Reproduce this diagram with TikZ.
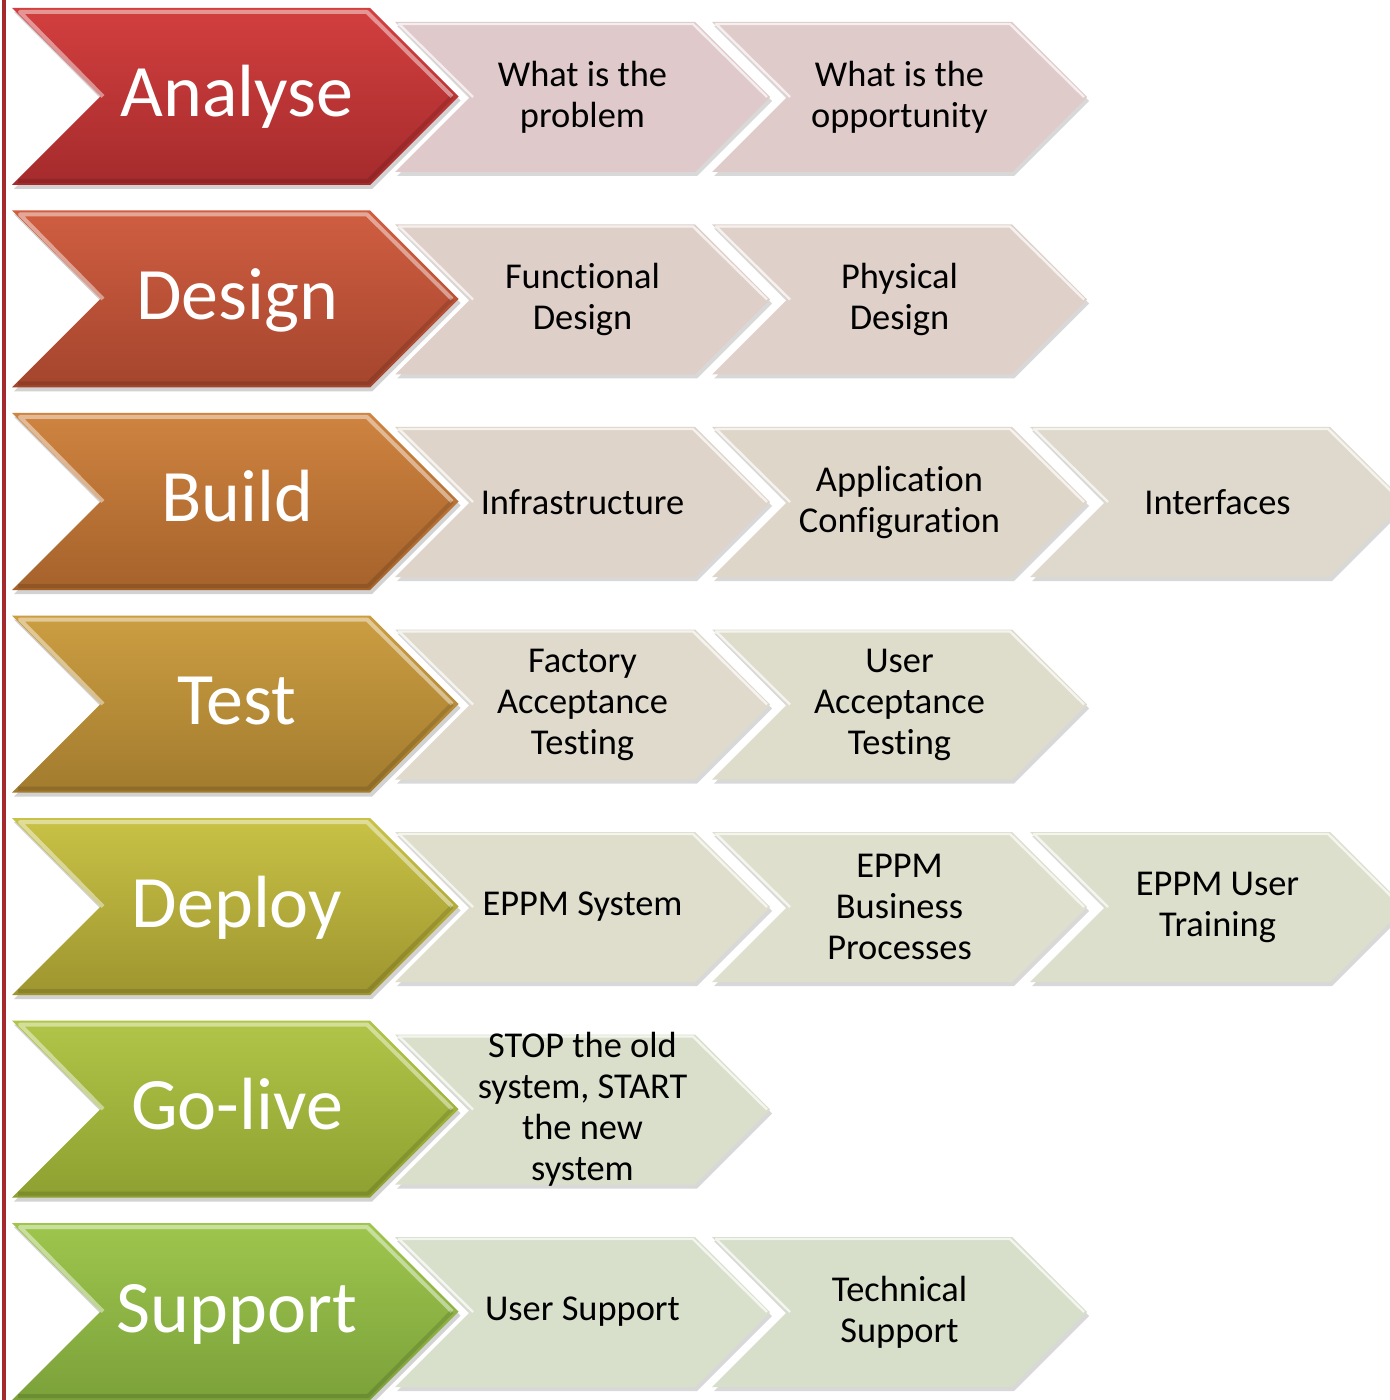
\documentclass[tikz,border=0pt]{standalone}
\usepackage{fontspec}
\setmainfont{Carlito}[Ligatures=NoCommon]
\usetikzlibrary{shadows}

\definecolor{barred}{HTML}{A52A2E}

% chevron outline: left, top, body width, half height
\newcommand{\chevron}[4]{(#1,#2) -- ++(#3,0) -- ++(#4,#4) -- ++(-#4,#4) -- ++(-#3,0) -- ++(#4,-#4) -- cycle}

% one light task chevron with its text: left, top, fill, name, text
\newcommand{\task}[5]{%
  \definecolor{tk}{HTML}{#3}
  \fill[task] \chevron{#1}{#2}{300}{75};
  \draw[task edge] (#1+78,#2+75) -- (#1+4,#2+2) -- (#1+298,#2+2) -- (#1+372,#2+75);
  \node[task text] (#4) at (#1+187.5,#2+75) {#5};}

\begin{document}
\begin{tikzpicture}[x=0.5pt,y=-0.5pt,
    phase/.style={drop shadow={shadow xshift=1pt,shadow yshift=-2pt,opacity=.35}},
    bevel/.style={white,opacity=.45,line width=2pt,line join=round},
    dark edge/.style={black,opacity=.12,line width=2pt,line join=round},
    phase text/.style={white,anchor=base,font=\fontsize{37}{44}\selectfont},
    task/.style={fill=tk,drop shadow={shadow xshift=1pt,shadow yshift=-2pt,opacity=.3}},
    task edge/.style={white,opacity=.7,line width=1.2pt,line join=round},
    task text/.style={align=center,font=\fontsize{18.2}{20.5}\selectfont}]

\fill[white] (0,0) rectangle (1389,1400);
\useasboundingbox (0,0) rectangle (1389,1400);
\fill[barred] (2,0) rectangle (6,1400);

% phases
\foreach \nm/\txt/\ct/\cb [count=\i from 0] in {
    analyse/Analyse/D33F3F/A52B2C,
    design/Design/D05E41/A4452D,
    build/Build/CF8440/A5622B,
    test/Test/CC9E42/A27B2E,
    deploy/Deploy/C8C246/9E952F,
    golive/Go-live/B0C548/8EA030,
    support/Support/9EC64D/7BA13A}{
  \pgfmathsetmacro\T{8+202.5*\i}
  \definecolor{ptop}{HTML}{\ct}
  \definecolor{pbot}{HTML}{\cb}
  \shade[phase,top color=ptop,bottom color=pbot] \chevron{12}{\T}{358}{88.5};
  \draw[bevel] (12+91,\T+88.5) -- (12+8,\T+4) -- (12+355,\T+4) -- (12+440,\T+88.5);
  \draw[dark edge] (12+440,\T+88.5) -- (12+356,\T+173) -- (12+6,\T+173);
  \node[phase text] (\nm) at (237,\T+109) {\txt};
}

% tasks
\task{395}{22}{DFC9CA}{problem}{What is the\\problem}
\task{712}{22}{DFCBCA}{opportunity}{What is the\\opportunity}

\task{395}{224.5}{DFCFC9}{functional}{Functional\\Design}
\task{712}{224.5}{DFD1CA}{physical}{Physical\\Design}

\task{395}{427}{DFD4C9}{infra}{Infrastructure}
\task{712}{427}{DFD6CA}{appconfig}{Application\\Configuration}
\task{1030}{427}{DED9CC}{interfaces}{Interfaces}

\task{395}{629.5}{DFDACC}{fat}{Factory\\Acceptance\\Testing}
\task{712}{629.5}{DEDCCB}{uat}{User\\Acceptance\\Testing}

\task{395}{832}{DFDECC}{eppmsystem}{EPPM System}
\task{712}{832}{DEDFCC}{eppmprocess}{EPPM\\Business\\Processes}
\task{1030}{832}{DCDFCB}{eppmtraining}{EPPM User\\Training}

\task{395}{1034.5}{DADFCB}{switchover}{STOP the old\\system, START\\the new\\system}

\task{395}{1237}{D8DFCB}{usersupport}{User Support}
\task{712}{1237}{D7DECA}{techsupport}{Technical\\Support}

\end{tikzpicture}
\end{document}
